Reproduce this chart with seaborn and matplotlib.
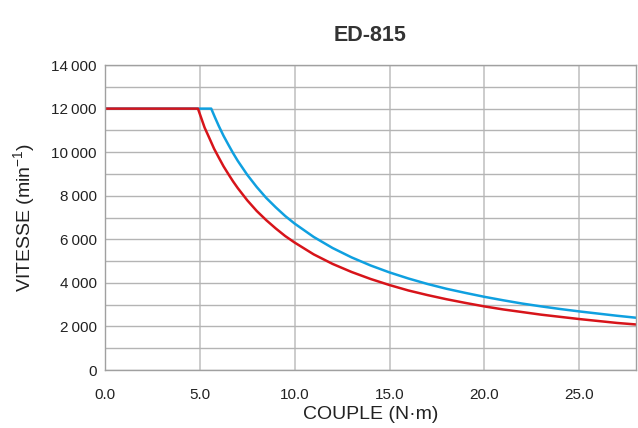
import matplotlib
matplotlib.use("Agg")
import matplotlib.pyplot as plt
import seaborn as sns
import pandas as pd

# torque (N·m) / speed (min-1) points
torque_red = [0, 4.9, 5.25, 5.5, 5.75, 6, 6.25, 6.5, 6.75, 7, 7.5, 8, 8.5, 9, 9.5, 10,
              11, 12, 13, 14, 15, 16, 17, 18, 19, 20, 21, 22, 23, 24, 25, 26, 27, 28]
speed_red = [12000, 12000, 11130, 10650, 10160, 9750, 9350, 9000, 8660, 8350, 7790,
             7300, 6880, 6500, 6150, 5850, 5310, 4870, 4500, 4180, 3900, 3650, 3440,
             3250, 3080, 2920, 2780, 2660, 2540, 2440, 2340, 2250, 2160, 2090]
torque_blue = [0, 5.6, 5.8, 6, 6.25, 6.5, 6.75, 7, 7.5, 8, 8.5, 9, 9.5, 10,
               11, 12, 13, 14, 15, 16, 17, 18, 19, 20, 21, 22, 23, 24, 25, 26, 27, 28]
speed_blue = [12000, 12000, 11590, 11200, 10750, 10350, 9960, 9600, 8960, 8400, 7900,
              7470, 7070, 6720, 6110, 5600, 5170, 4800, 4480, 4200, 3950, 3730, 3540,
              3360, 3200, 3050, 2920, 2800, 2690, 2590, 2490, 2400]

x_ticks = [0, 5, 10, 15, 20, 25]
y_ticks = [0, 2000, 4000, 6000, 8000, 10000, 12000, 14000]

sns.set_theme(style="white")
plt.rcParams['font.family'] = ['Liberation Sans', 'DejaVu Sans']
plt.rcParams['mathtext.fontset'] = 'custom'
plt.rcParams['mathtext.rm'] = 'Liberation Sans'
plt.rcParams['mathtext.it'] = 'Liberation Sans'

df_red = pd.DataFrame({"torque": torque_red, "speed": speed_red})
df_blue = pd.DataFrame({"torque": torque_blue, "speed": speed_blue})

fig = plt.figure(figsize=(6.38, 4.28), dpi=100)
ax = fig.add_axes([0.1646, 0.1355, 0.8324, 0.7125])

sns.lineplot(data=df_blue, x="torque", y="speed", sort=False, color="#0fa0e0",
             linewidth=1.8, ax=ax)
sns.lineplot(data=df_red, x="torque", y="speed", sort=False, color="#d7141a",
             linewidth=1.8, ax=ax)

ax.set_xlim(0, 28)
ax.set_ylim(0, 14000)
ax.set_xticks(x_ticks)
ax.set_xticklabels([f"{v:.1f}" for v in x_ticks])
ax.set_yticks(y_ticks)
ax.set_yticklabels([f"{v:,}".replace(",", "\u2009") for v in y_ticks])
ax.set_yticks(range(1000, 14000, 2000), minor=True)
ax.grid(True, which="both", axis="y", color="#b4b4b4", linewidth=1)
ax.grid(True, which="major", axis="x", color="#c4c4c4", linewidth=1.2)
ax.set_axisbelow(True)
for s in ax.spines.values():
    s.set_color("#a0a0a0")
    s.set_linewidth(1)
ax.tick_params(axis="both", which="both", length=0, labelsize=11, colors="#222222")
ax.tick_params(axis="x", pad=13)
ax.tick_params(axis="y", pad=6)

ax.set_xlabel("COUPLE (N·m)", fontsize=14, color="#222222", labelpad=3)
ax.set_ylabel(r"VITESSE (min$^{-1}$)", fontsize=14, color="#222222", labelpad=10)
ax.set_title("ED-815", fontsize=15.5, fontweight="bold", color="#333333", pad=17)

fig.savefig("out.png", dpi=100)
